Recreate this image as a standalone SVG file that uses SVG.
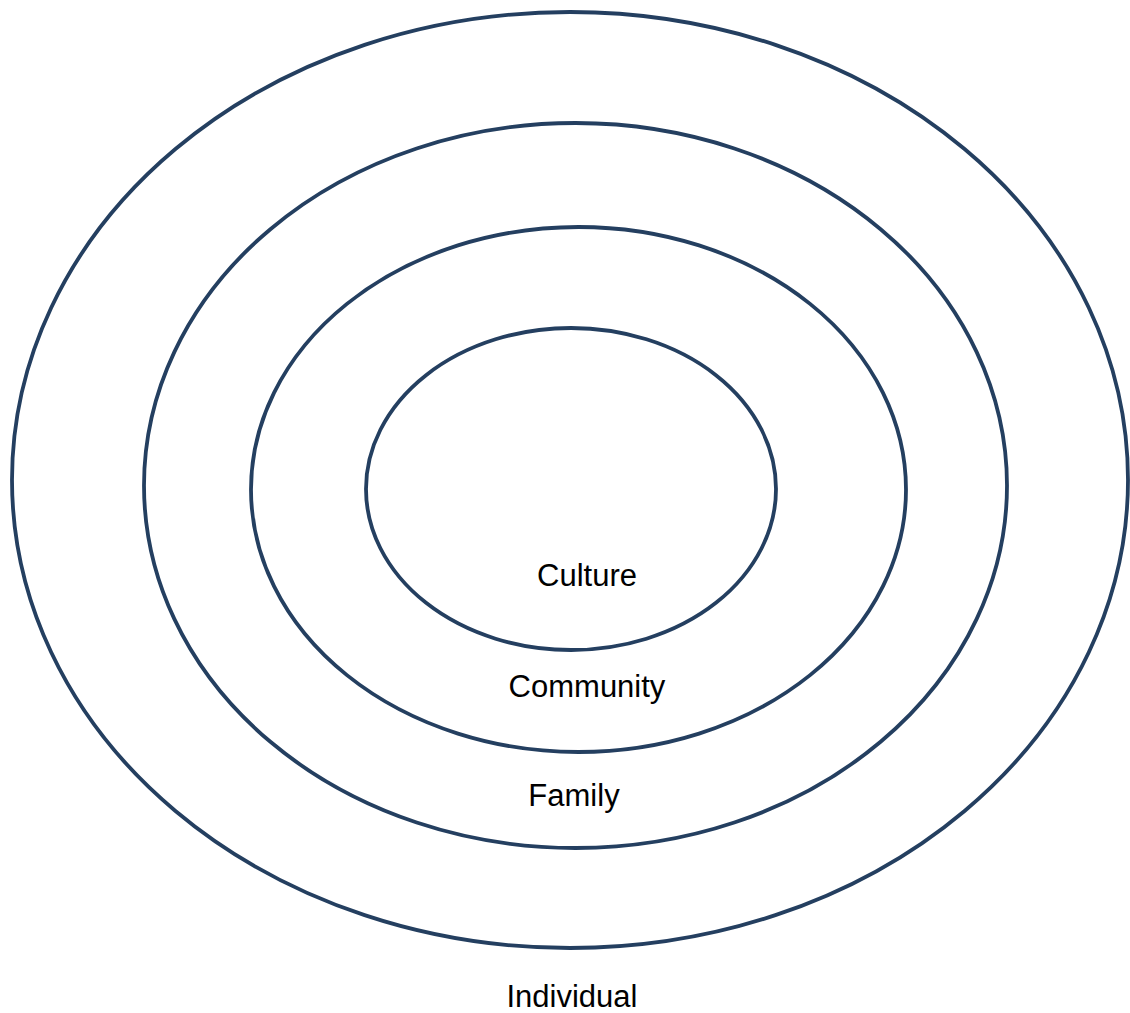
<svg xmlns="http://www.w3.org/2000/svg" width="1130" height="1013" viewBox="0 0 1130 1013">
<style>
.ring{fill:none;stroke:#243F60;stroke-width:3.8}
.lbl{font-family:"Liberation Sans",Arial,sans-serif;font-size:31px;fill:#000;text-anchor:middle}
</style>
<rect width="1130" height="1013" fill="#fff"/>
<g id="individual">
<ellipse class="ring" cx="570" cy="480" rx="558" ry="468"/>
<text class="lbl" x="572" y="1007">Individual</text>
</g>
<g id="family">
<ellipse class="ring" cx="575.5" cy="485.5" rx="431.5" ry="362.5"/>
<text class="lbl" x="574" y="806">Family</text>
</g>
<g id="community">
<ellipse class="ring" cx="578.5" cy="489.5" rx="327.5" ry="262.5"/>
<text class="lbl" x="587" y="697">Community</text>
</g>
<g id="culture">
<ellipse class="ring" cx="571" cy="489" rx="205" ry="161"/>
<text class="lbl" x="587" y="586">Culture</text>
</g>
<g id="connectors"/>
</svg>
